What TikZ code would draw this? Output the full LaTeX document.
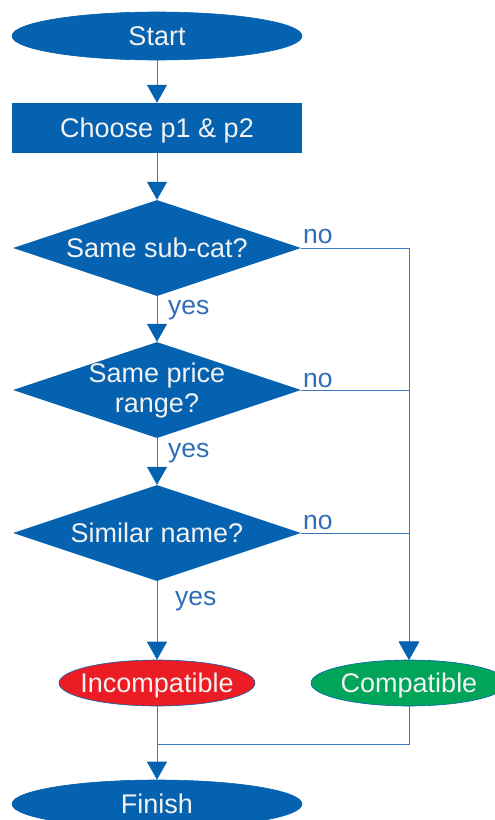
\documentclass[tikz,border=0pt]{standalone}
\usepackage{fontspec}
\setmainfont{Liberation Sans}
\usetikzlibrary{shapes.geometric,arrows.meta}
\definecolor{flowblue}{HTML}{0562B0}
\definecolor{linkblue}{HTML}{3A78C2}
\definecolor{labblue}{HTML}{2F6DB5}
\definecolor{incred}{HTML}{EC1C24}
\definecolor{compgreen}{HTML}{00A55A}
\definecolor{txtwhite}{HTML}{F2F2F2}
\tikzset{
  term/.style={ellipse, fill=flowblue, draw=flowblue, line width=0.6pt, minimum width=290pt, minimum height=48pt, inner sep=0pt},
  endbox/.style={ellipse, draw=flowblue, line width=0.6pt, minimum width=196pt, minimum height=46pt, inner sep=0pt},
  procbox/.style={rectangle, fill=flowblue, minimum width=290pt, minimum height=50pt, inner sep=0pt},
  decision/.style={diamond, fill=flowblue, minimum width=288pt, minimum height=96pt, inner sep=0pt},
  txt/.style={text=txtwhite, font=\fontsize{27}{30}\selectfont, text height=19.5pt, text depth=0pt, inner sep=0pt, align=center},
  lab/.style={text=labblue, font=\fontsize{26.5}{30}\selectfont, inner sep=0pt},
  conn/.style={draw=linkblue, line width=1pt},
  arr/.style={conn, -{Triangle[width=20pt,length=18pt,color=flowblue]}},
}
\begin{document}
\begin{tikzpicture}[x=1pt,y=-1pt]
\useasboundingbox (0,0) rectangle (495,820);
\node[term] (start) at (157,36) {};
\node[txt] at (start) {Start};
\node[procbox] (choose) at (157,128) {};
\node[txt] at (choose) {Choose p1 \& p2};
\node[decision] (d1) at (157,248) {};
\node[txt] at (d1) {Same sub-cat?};
\node[decision] (d2) at (157,390) {};
\node[txt, text height=, text depth=] at (157,391) {Same price\\range?};
\node[decision] (d3) at (157,533) {};
\node[txt] at (d3) {Similar name?};
\node[endbox, fill=incred] (inc) at (157,683) {};
\node[txt] at (inc) {Incompatible};
\node[endbox, fill=compgreen] (comp) at (409,683) {};
\node[txt] at (comp) {Compatible};
\node[term] (fin) at (157,804) {};
\node[txt] at (fin) {Finish};
\coordinate (merge) at (157,744);

\draw[arr] (start) -- (choose);
\draw[arr] (choose) -- (d1);
\draw[arr] (d1) -- (d2);
\draw[arr] (d2) -- (d3);
\draw[arr] (d3) -- (inc);
\draw[arr] (d1.east) -- (d1.east -| comp) -- (comp.north);
\draw[arr] (d2.east) -- (d2.east -| comp) -- (comp.north);
\draw[arr] (d3.east) -- (d3.east -| comp) -- (comp.north);
\draw[arr] (inc) -- (fin);
\draw[conn] (comp.south) |- (merge);

\node[lab, anchor=base west] at (303,243) {no};
\node[lab, anchor=base west] at (303,387) {no};
\node[lab, anchor=base west] at (303,529) {no};
\node[lab, anchor=base west] at (168,314) {yes};
\node[lab, anchor=base west] at (168,457) {yes};
\node[lab, anchor=base west] at (175,605) {yes};
\end{tikzpicture}
\end{document}
